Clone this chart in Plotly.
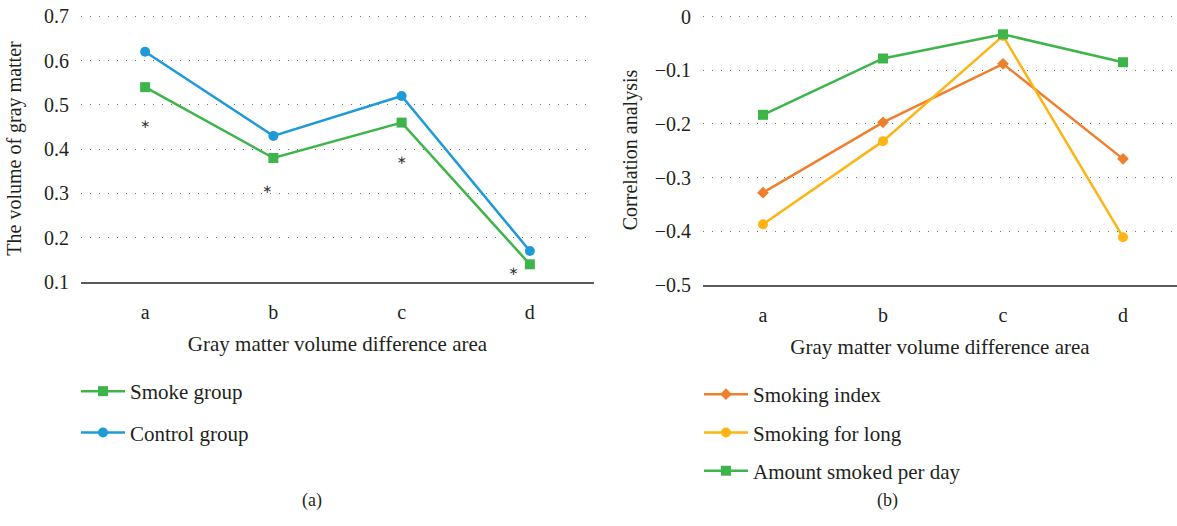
import plotly.graph_objects as go

# ---- data ----
categories = ["a", "b", "c", "d"]
smoke_group = [0.54, 0.38, 0.46, 0.14]
control_group = [0.62, 0.43, 0.52, 0.17]
asterisk_y = [0.455, 0.308, 0.374, 0.122]
asterisk_dx = [0.0, -0.05, 0.0, -0.13]

smoking_index = [-0.328, -0.197, -0.088, -0.265]
smoking_long = [-0.387, -0.232, -0.036, -0.411]
amount_per_day = [-0.183, -0.078, -0.033, -0.085]

left_yticks = [0.1, 0.2, 0.3, 0.4, 0.5, 0.6, 0.7]
right_yticks = [-0.5, -0.4, -0.3, -0.2, -0.1, 0.0]

GREEN = "#3db54a"
BLUE = "#1e9bd7"
ORANGE = "#f07f2d"
YELLOW = "#fdb515"
FONT = "Liberation Serif"
TXT = "#231f20"

# the page body margin is removed by a small post script, so the figure fills the window
W, H = 1177, 526


def px(x):
    return x / W


def py(y):
    return 1 - y / H


xpos = list(range(len(categories)))

fig = go.Figure()

# left panel
fig.add_trace(go.Scatter(x=xpos, y=smoke_group, name="Smoke group", mode="lines+markers",
                         line=dict(color=GREEN, width=2.5), marker=dict(symbol="square", size=10),
                         xaxis="x", yaxis="y", legend="legend", legendgroup="g1"))
fig.add_trace(go.Scatter(x=xpos, y=control_group, name="Control group", mode="lines+markers",
                         line=dict(color=BLUE, width=2.5), marker=dict(symbol="circle", size=10),
                         xaxis="x", yaxis="y", legend="legend", legendgroup="g2"))
fig.add_trace(go.Scatter(x=[p + d for p, d in zip(xpos, asterisk_dx)], y=asterisk_y, mode="text",
                         text=["∗"] * len(categories), textfont=dict(family="DejaVu Sans", size=12, color="#333"),
                         showlegend=False, hoverinfo="skip", xaxis="x", yaxis="y"))

# right panel
fig.add_trace(go.Scatter(x=xpos, y=smoking_index, name="Smoking index", mode="lines+markers",
                         line=dict(color=ORANGE, width=2.5), marker=dict(symbol="diamond", size=9),
                         xaxis="x2", yaxis="y2", legend="legend2", legendgroup="h1"))
fig.add_trace(go.Scatter(x=xpos, y=smoking_long, name="Smoking for long", mode="lines+markers",
                         line=dict(color=YELLOW, width=2.5), marker=dict(symbol="circle", size=10),
                         xaxis="x2", yaxis="y2", legend="legend2", legendgroup="h2"))
fig.add_trace(go.Scatter(x=xpos, y=amount_per_day, name="Amount smoked per day", mode="lines+markers",
                         line=dict(color=GREEN, width=2.5), marker=dict(symbol="square", size=10),
                         xaxis="x2", yaxis="y2", legend="legend2", legendgroup="h3"))

xcommon = dict(tickmode="array", tickvals=xpos, ticktext=categories, showgrid=False,
               showline=True, linecolor="#5a5a5a", linewidth=2, zeroline=False, automargin=False,
               ticks="outside", ticklen=11, tickcolor="rgba(0,0,0,0)",
               tickfont=dict(family=FONT, size=20, color=TXT),
               title=dict(text="Gray matter volume difference area", standoff=14,
                          font=dict(family=FONT, size=21, color=TXT)))
ycommon = dict(showgrid=True, gridcolor="#6e6e6e", gridwidth=1.3, griddash="1px,8px",
               showline=False, zeroline=False, ticks="outside", ticklen=7, automargin=False,
               tickcolor="rgba(0,0,0,0)", tickfont=dict(family=FONT, size=20, color=TXT),
               tickmode="array", ticklabeloverflow="allow")

fig.update_layout(
    width=W, height=H, margin=dict(l=0, r=0, t=0, b=0, autoexpand=False),
    paper_bgcolor="white", plot_bgcolor="white",
    xaxis=dict(domain=[px(81), px(594)], range=[-0.5, 3.5], anchor="y", **xcommon),
    yaxis=dict(domain=[py(282), py(15)], range=[0.1, 0.703], anchor="x",
               tickvals=left_yticks, ticktext=[f"{v:.1f}" for v in left_yticks],
               title=dict(text="The volume of gray matter", standoff=17,
                          font=dict(family=FONT, size=20, color=TXT)), **ycommon),
    xaxis2=dict(domain=[px(703), 1.0], range=[-0.5, -0.5 + (W - 703) / 120], anchor="y2", **xcommon),
    yaxis2=dict(domain=[py(285), py(15)], range=[-0.5, 0.003], anchor="x2",
                tickvals=right_yticks,
                ticktext=["0" if v == 0 else f"\u2212{abs(v):.1f}" for v in right_yticks],
                title=dict(text="Correlation analysis", standoff=11,
                           font=dict(family=FONT, size=20, color=TXT)), **ycommon),
    legend=dict(x=px(76), y=py(371), xanchor="left", yanchor="top", bgcolor="rgba(0,0,0,0)",
                font=dict(family=FONT, size=21, color=TXT), tracegroupgap=11, itemwidth=44),
    legend2=dict(x=px(699), y=py(374), xanchor="left", yanchor="top", bgcolor="rgba(0,0,0,0)",
                 font=dict(family=FONT, size=21, color=TXT), tracegroupgap=8, itemwidth=44),
    annotations=[
        dict(text="(a)", x=px(300), y=py(513), xref="paper", yref="paper", showarrow=False,
             font=dict(family=FONT, size=18, color=TXT)),
        dict(text="(b)", x=px(900), y=py(513), xref="paper", yref="paper", showarrow=False,
             font=dict(family=FONT, size=18, color=TXT)),
    ],
)

fig.write_html("out.html", config={"displayModeBar": False},
               post_script="document.body.style.margin='0';document.body.style.overflow='hidden';")
